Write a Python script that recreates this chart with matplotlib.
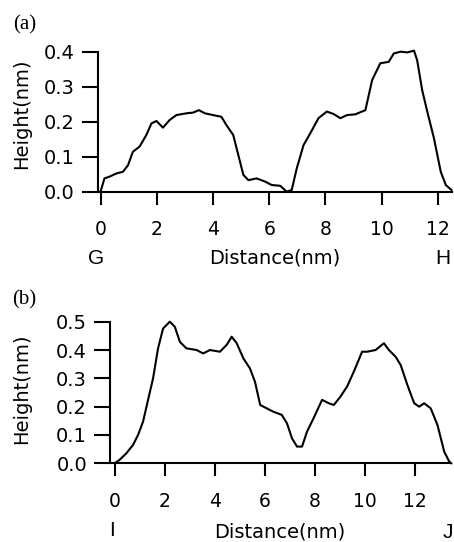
import matplotlib.pyplot as plt

# profile G-H (panel a)
dist_a = [0, 0.14, 0.32, 0.56, 0.8, 0.98, 1.15, 1.39, 1.63, 1.81, 1.99, 2.22, 2.46, 2.7,
          3.06, 3.29, 3.5, 3.71, 4.0, 4.3, 4.48, 4.72, 4.9, 5.08, 5.26, 5.55, 5.85, 6.09,
          6.39, 6.62, 6.8, 6.98, 7.22, 7.46, 7.75, 8.05, 8.29, 8.53, 8.77, 9.06, 9.42,
          9.66, 9.95, 10.25, 10.43, 10.67, 10.91, 11.15, 11.26, 11.44, 11.62, 11.86,
          12.1, 12.28, 12.48]
height_a = [0, 0.038, 0.043, 0.052, 0.057, 0.076, 0.114, 0.129, 0.162, 0.195, 0.202,
            0.183, 0.205, 0.219, 0.224, 0.226, 0.233, 0.224, 0.219, 0.214, 0.19, 0.162,
            0.105, 0.048, 0.033, 0.038, 0.029, 0.019, 0.017, 0.0, 0.005, 0.067, 0.133,
            0.167, 0.21, 0.229, 0.222, 0.21, 0.219, 0.221, 0.233, 0.319, 0.367, 0.371,
            0.395, 0.4, 0.398, 0.403, 0.376, 0.29, 0.229, 0.152, 0.057, 0.019, 0.005]

# profile I-J (panel b)
dist_b = [0, 0.2, 0.47, 0.74, 0.94, 1.14, 1.34, 1.54, 1.74, 1.94, 2.21, 2.41, 2.61, 2.87,
          3.28, 3.54, 3.81, 4.21, 4.48, 4.68, 4.88, 5.15, 5.41, 5.61, 5.82, 6.08, 6.35,
          6.68, 6.89, 7.09, 7.29, 7.49, 7.69, 7.95, 8.29, 8.56, 8.76, 9.02, 9.29, 9.56,
          9.89, 10.09, 10.43, 10.76, 10.96, 11.23, 11.43, 11.7, 11.97, 12.17, 12.37,
          12.63, 12.9, 13.17, 13.37, 13.45]
height_b = [0, 0.012, 0.035, 0.065, 0.1, 0.147, 0.224, 0.3, 0.406, 0.476, 0.5, 0.482,
            0.429, 0.406, 0.4, 0.388, 0.4, 0.394, 0.418, 0.447, 0.424, 0.37, 0.335,
            0.288, 0.206, 0.194, 0.182, 0.171, 0.141, 0.088, 0.059, 0.059, 0.112, 0.159,
            0.224, 0.212, 0.206, 0.235, 0.271, 0.324, 0.394, 0.394, 0.4, 0.424, 0.4,
            0.376, 0.347, 0.276, 0.212, 0.2, 0.212, 0.194, 0.135, 0.041, 0.006, 0.0]

ticks_x = [0, 2, 4, 6, 8, 10, 12]
ticks_a = [0.0, 0.1, 0.2, 0.3, 0.4]
ticks_b = [0.0, 0.1, 0.2, 0.3, 0.4, 0.5]

W, H = 454, 542
fig = plt.figure(figsize=(W / 100, H / 100), dpi=100)


def px(x, y):
    return x / W, 1 - y / H


def panel(rect, xs, ys, xlim, ylim, yticks):
    l, t, r, b = rect
    ax = fig.add_axes([l / W, 1 - b / H, (r - l) / W, (b - t) / H])
    ax.plot(xs, ys, color='black', lw=1.5, clip_on=False)
    ax.set_xlim(*xlim)
    ax.set_ylim(*ylim)
    ax.set_xticks(ticks_x)
    ax.set_yticks(yticks)
    ax.set_yticklabels(['%.1f' % v for v in yticks])
    for s in ['top', 'right']:
        ax.spines[s].set_visible(False)
    for s in ['left', 'bottom']:
        ax.spines[s].set_linewidth(1.5)
    ax.tick_params(axis='both', direction='out', width=1.5, color='black')
    ax.tick_params(axis='x', length=9.5, pad=11, labelsize=13.5)
    ax.tick_params(axis='y', length=11.5, pad=5, labelsize=14)
    return ax


panel((97.7, 51.7, 452, 191.7), dist_a, height_a, (-0.1, 12.5), (0, 0.4), ticks_a)
panel((110, 321.7, 450, 463.3), dist_b, height_b, (-0.18, 13.4), (0, 0.5), ticks_b)

serif = dict(family='Liberation Serif', fontsize=15, ha='center', va='center')
sans = dict(family='Liberation Sans', fontsize=15, ha='center', va='center')
lab = dict(fontsize=14, ha='center', va='center')

fig.text(*px(24.5, 25), '(a)', **serif)
fig.text(*px(24, 299.5), '(b)', **serif)

fig.text(*px(22, 114), 'Height(nm)', rotation=90, **lab)
fig.text(*px(22, 388.5), 'Height(nm)', rotation=90, **lab)
fig.text(*px(275, 258), 'Distance(nm)', **lab)
fig.text(*px(280, 532), 'Distance(nm)', **lab)

fig.text(*px(96.5, 258), 'G', **sans)
fig.text(*px(442.5, 258), 'H', **sans)
fig.text(*px(111.7, 531), 'I', **sans)
fig.text(*px(448, 532), 'J', **sans)

fig.savefig('out.png', dpi=100)
